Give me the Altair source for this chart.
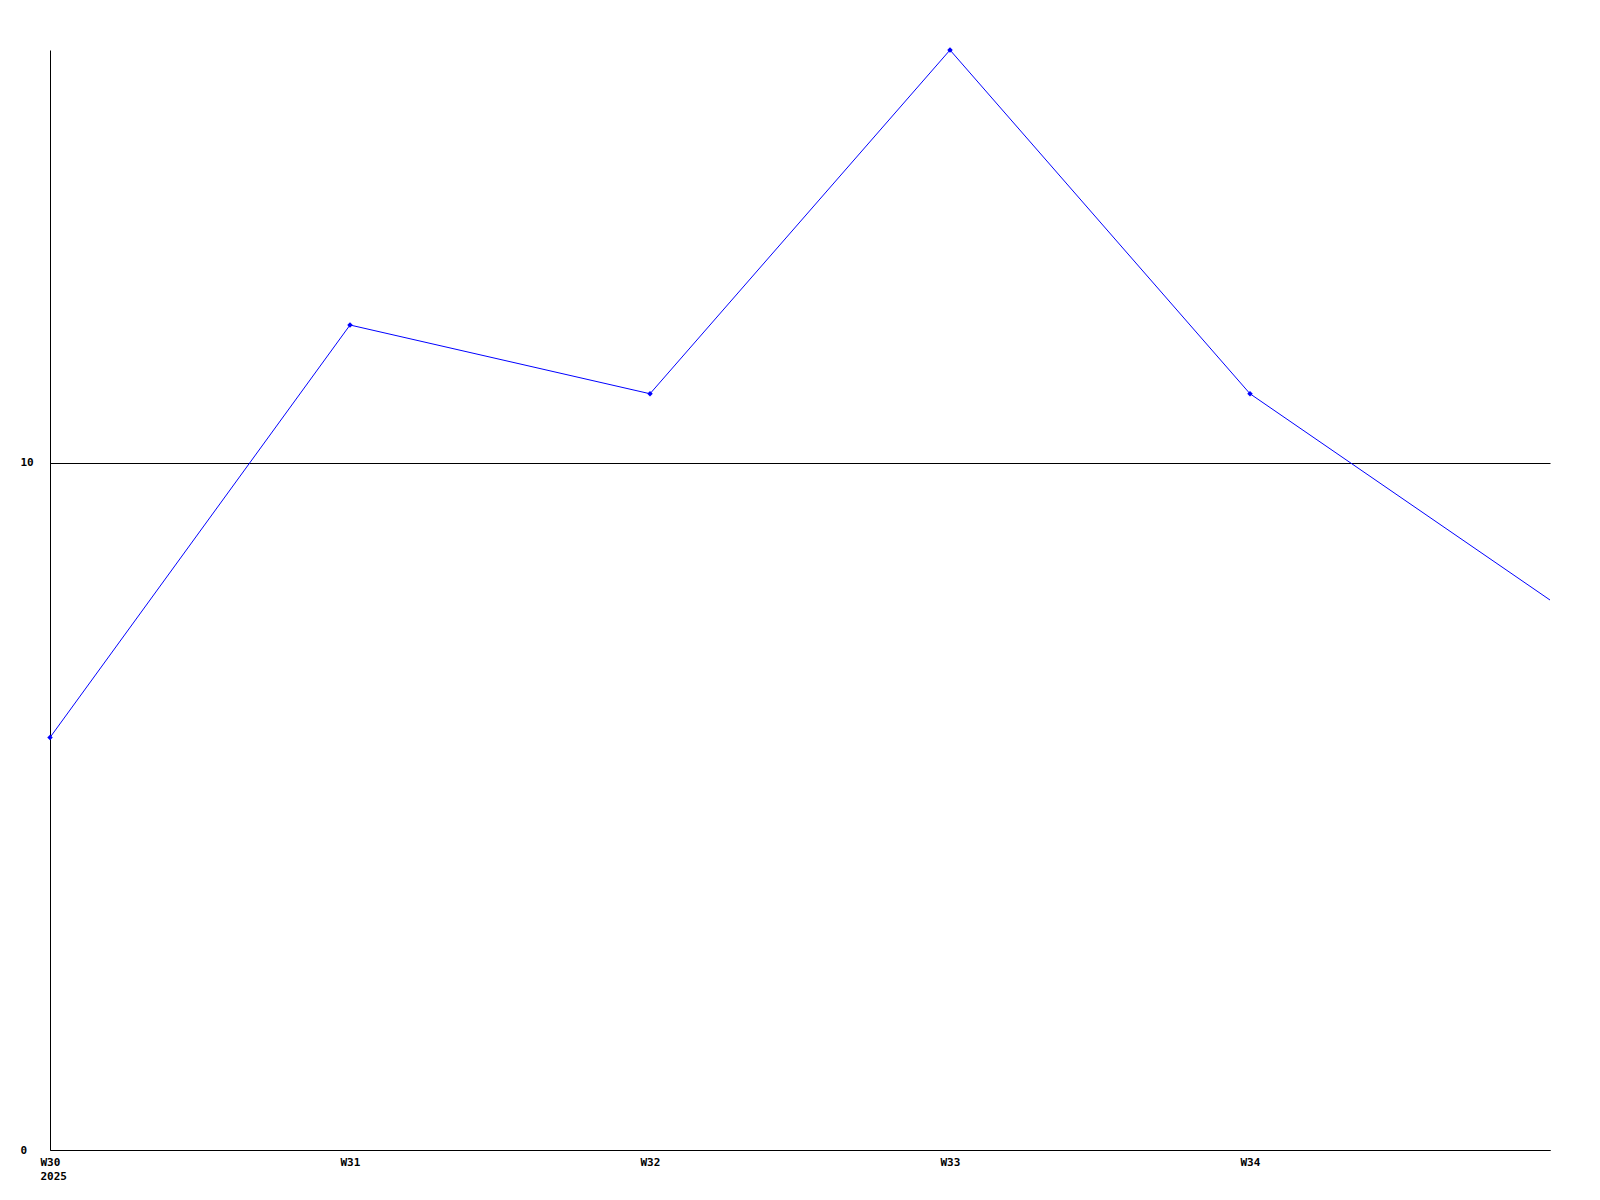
import altair as alt
import pandas as pd

weeks = [30, 31, 32, 33, 34, 35]
values = [6, 12, 11, 16, 11, 8]
tick_weeks = [30, 31, 32, 33, 34]
year_label = "2025"

df = pd.DataFrame({"week": weeks, "value": values})

FONT = "DejaVu Sans Mono"

x_enc = alt.X(
    "week:Q",
    scale=alt.Scale(domain=[30, 35], nice=False, zero=False),
    axis=alt.Axis(
        values=tick_weeks,
        labelExpr="datum.value == 30 ? ['W' + datum.value, '" + year_label + "'] : 'W' + datum.value",
        title=None,
        ticks=False,
        grid=False,
        labelAlign="left",
        labelOffset=-10,
        labelBaseline="top",
        labelPadding=6,
        labelLineHeight=14,
        labelFont=FONT,
        labelFontWeight="bold",
        labelFontSize=11,
        labelColor="black",
        domainColor="black",
        labelFlush=False,
        labelOverlap=False,
    ),
)
y_enc = alt.Y(
    "value:Q",
    scale=alt.Scale(domain=[0, 16], nice=False),
    axis=alt.Axis(
        values=[0, 10],
        format="d",
        title=None,
        ticks=False,
        grid=True,
        gridColor="black",
        gridOpacity=1,
        gridWidth=1,
        labelAlign="left",
        labelPadding=30,
        labelBaseline="middle",
        labelFont=FONT,
        labelFontWeight="bold",
        labelFontSize=11,
        labelColor="black",
        domainColor="black",
        labelFlush=False,
    ),
)

line = alt.Chart(df).mark_line(color="#0000ff", strokeWidth=1, clip=True).encode(x=x_enc, y=y_enc)
pts = (
    alt.Chart(df)
    .transform_filter(alt.datum.week < 35)
    .mark_point(shape="diamond", filled=True, size=30, color="#0000ff", opacity=1)
    .encode(x="week:Q", y="value:Q")
)

chart = (
    alt.layer(line, pts)
    .properties(
        width=1500,
        height=1100,
        autosize=alt.AutoSizeParams(type="none"),
        padding={"left": 42, "top": 42, "right": 40, "bottom": 60},
        view=alt.ViewBackground(stroke="transparent", strokeOpacity=0, strokeWidth=0),
    )
    .configure_view(strokeWidth=0, strokeOpacity=0, stroke="transparent")
    .configure(background="white")
)

chart.save("out.html", embed_options={"renderer": "svg", "actions": False})
